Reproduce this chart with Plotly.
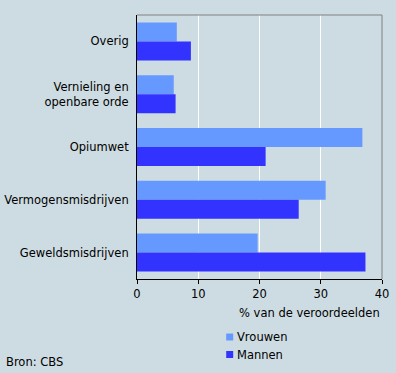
import plotly.graph_objects as go

categories = ["Overig", "Vernieling en<br>openbare orde", "Opiumwet",
              "Vermogensmisdrijven", "Geweldsmisdrijven"]
vrouwen = [6.5, 6.0, 36.8, 30.8, 19.7]
mannen = [8.8, 6.3, 21.0, 26.4, 37.3]
series_names = ["Vrouwen", "Mannen"]
series_colors = ["#6699ff", "#3333ff"]
x_ticks = [0, 10, 20, 30, 40]

BG = "#cddce2"
FONT = "DejaVu Sans"
FS = 11.5

fig = go.Figure()
for name, vals, col in zip(series_names, [vrouwen, mannen], series_colors):
    fig.add_trace(go.Bar(y=categories, x=vals, name=name, orientation="h",
                         marker=dict(color=col, line=dict(width=0)),
                         showlegend=False))

fig.update_layout(
    width=396, height=373,
    margin=dict(l=137, r=14, t=15, b=94, pad=0),
    paper_bgcolor=BG, plot_bgcolor=BG,
    barmode="group", bargap=0.28, bargroupgap=0,
    font=dict(family=FONT, size=FS, color="#000000"),
    xaxis=dict(range=[0, 40], tickvals=x_ticks, showgrid=True, gridcolor="#ffffff",
               gridwidth=1, zeroline=False, showline=True, linecolor="#000000",
               linewidth=1, ticks="outside", ticklen=4, tickcolor="#000000",
               fixedrange=True, tickfont=dict(size=FS), automargin=False),
    yaxis=dict(autorange="reversed", showgrid=False, zeroline=False,
               showline=True, linecolor="#000000", linewidth=1, ticks="",
               ticklabelstandoff=5, fixedrange=True, automargin=False),
)

# gray top and right frame
fig.add_shape(type="line", xref="paper", yref="paper", x0=0, x1=1, y0=1, y1=1,
              line=dict(color="#808080", width=1))
fig.add_shape(type="line", xref="paper", yref="paper", x0=1, x1=1, y0=0, y1=1,
              line=dict(color="#808080", width=1))

# axis title
fig.add_annotation(text="% van de veroordeelden", xref="paper", yref="paper",
                   x=1, y=0, xanchor="right", yanchor="middle", yshift=-34,
                   showarrow=False, font=dict(size=FS))

# legend
sw_x = (229.7 - 137) / 245
for i, (name, col) in enumerate(zip(series_names, series_colors)):
    dy = -58 - 17.5 * i
    fig.add_shape(type="rect", xref="paper", yref="paper",
                  xsizemode="pixel", ysizemode="pixel",
                  xanchor=sw_x, yanchor=0, x0=-3.5, x1=3.5,
                  y0=dy - 3.5, y1=dy + 3.5,
                  fillcolor=col, line=dict(width=0))
    fig.add_annotation(text=name, xref="paper", yref="paper",
                       x=sw_x, y=0, xanchor="left", yanchor="middle",
                       xshift=5, yshift=dy, showarrow=False, font=dict(size=FS))

fig.add_annotation(text="Bron: CBS", xref="paper", yref="paper",
                   x=0, y=0, xanchor="left", yanchor="middle",
                   xshift=-133, yshift=-83, showarrow=False, font=dict(size=FS))

fig.write_html("out.html", config={"displayModeBar": False},
               post_script="document.body.style.margin='0';document.body.style.overflow='hidden';")
